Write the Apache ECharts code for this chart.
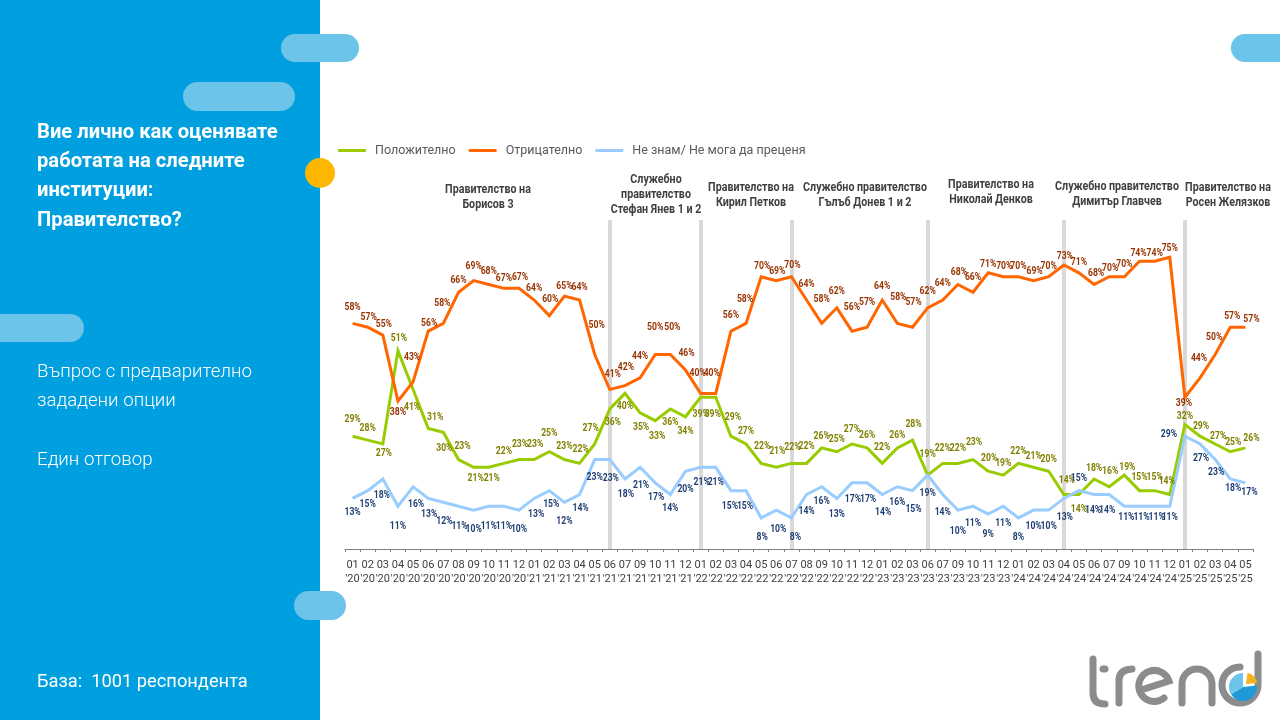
<!DOCTYPE html>
<html>
<head>
<meta charset="utf-8">
<style>html,body{margin:0;padding:0;background:#fff}#chart{width:1280px;height:720px}</style>
<script src="https://cdn.jsdelivr.net/npm/echarts@6/dist/echarts.min.js"></script>
</head>
<body>
<div id="chart"></div>
<script>
var categories = ["01\n'20","02\n'20","03\n'20","04\n'20","05\n'20","06\n'20","07\n'20","08\n'20","09\n'20","10\n'20","11\n'20","12\n'20",
	"01\n'21","02\n'21","03\n'21","04\n'21","05\n'21","06\n'21","07\n'21","09\n'21","10\n'21","11\n'21","12\n'21",
	"01\n'22","02\n'22","03\n'22","04\n'22","05\n'22","06\n'22","07\n'22","08\n'22","09\n'22","10\n'22","11\n'22","12\n'22",
	"01\n'23","02\n'23","03\n'23","06\n'23","07\n'23","09\n'23","10\n'23","11\n'23","12\n'23",
	"01\n'24","02\n'24","03\n'24","04\n'24","05\n'24","06\n'24","07\n'24","09\n'24","10\n'24","11\n'24","12\n'24",
	"01\n'25","02\n'25","03\n'25","04\n'25","05\n'25"];

var positive = [29,28,27,51,41,31,30,23,21,21,22,23,23,25,23,22,27,36,40,35,33,36,34,39,39,29,27,22,21,22,22,26,25,27,26,22,26,28,19,22,22,23,20,19,22,21,20,14,14,18,16,19,15,15,14,32,29,27,25,26];
var negative = [58,57,55,38,43,56,58,66,69,68,67,67,64,60,65,64,50,41,42,44,50,50,46,40,40,56,58,70,69,70,64,58,62,56,57,64,58,57,62,64,68,66,71,70,70,69,70,73,71,68,70,70,74,74,75,39,44,50,57,57];
var dontKnow = [13,15,18,11,16,13,12,11,10,11,11,10,13,15,12,14,23,23,18,21,17,14,20,21,21,15,15,8,10,8,14,16,13,17,17,14,16,15,19,14,10,11,9,11,8,10,10,13,15,14,14,11,11,11,11,29,27,23,18,17];

// label nudges, px from the point
var positiveDx = [0,0,1,1,-1,7,1,4,2,3,0,1,1,0,0,1,-4,3,0,1,2,0,0,0,-3,2,0,1,1,1,0,0,0,0,0,0,0,1,0,0,0,1,1,0,0,0,0,3,0,0,1,3,0,0,-3,0,1,3,3,6];
var positiveDy = [-17,-12,9,-12,18,-11,16,-13,11,11,-12,-15,-15,-18,-13,-14,-16,13,13,15,16,13,15,17,17,-19,-13,-17,-16,-16,-17,-11,-12,-15,-12,-16,-12,-16,-21,-15,-15,-17,-13,-12,-12,-11,-12,-14,15,-11,-15,-8,-13,-13,-13,-8,-10,-8,-9,-9];
var negativeDx = [0,1,1,0,-1,1,-1,0,0,0,0,1,0,1,0,0,2,3,1,0,0,2,1,-3,-4,0,-1,1,1,1,0,0,0,0,0,0,1,1,0,0,1,0,0,1,0,1,0,1,0,2,1,0,-1,0,0,-1,-1,-1,2,6];
var negativeDy = [-16,-10,-11,11,-24,-8,-20,-12,-14,-13,-10,-11,-12,-16,-10,-13,-29,-15,-18,-21,-27,-27,-17,-20,-20,-16,-24,-10,-9,-11,-16,-24,-16,-24,-25,-14,-26,-25,-16,-17,-12,-15,-8,-10,-10,-9,-10,-9,-10,-11,-8,-12,-8,-8,-9,6,-19,-17,-11,-8];
var dontKnowDx = [0,0,-1,0,3,1,1,1,0,0,0,0,2,2,0,1,0,1,1,1,1,0,0,1,0,-1,-1,1,2,4,0,0,0,1,1,1,0,1,0,0,0,0,0,0,0,0,0,1,0,-1,-2,2,2,2,0,-16,1,1,3,4];
var dontKnowDy = [14,14,16,20,18,16,19,20,19,20,20,19,16,14,19,14,18,19,15,18,15,14,18,15,15,16,16,19,19,19,17,15,16,17,17,18,16,19,18,18,21,17,20,17,19,16,16,19,-12,16,16,11,11,11,11,-2,14,13,9,10];

var seriesNames = ['Положително','Отрицателно','Не знам/ Не мога да преценя'];
var governmentStarts = ["06\n'21","01\n'22","07\n'22","06\n'23","04\n'24","01\n'25"];
var governments = [
	{text:'Правителство на\nБорисов 3', x:488, y:197},
	{text:'Служебно\nправителство\nСтефан Янев 1 и 2', x:656, y:195},
	{text:'Правителство на\nКирил Петков', x:751, y:195},
	{text:'Служебно правителство\nГълъб Донев 1 и 2', x:865, y:195},
	{text:'Правителство на\nНиколай Денков', x:991, y:192},
	{text:'Служебно правителство\nДимитър Главчев', x:1117, y:194},
	{text:'Правителство на\nРосен Желязков', x:1228, y:195}
];

var PANEL = '#009fdf', PILL = '#6cc4ea', LOGO = '#8a8c8e';

function makeLine(name, values, lineColor, z){
	return {
		name: name,
		type: 'line',
		z: z,
		data: values,
		showSymbol: false,
		color: lineColor,
		lineStyle: {width: 3, color: lineColor, join: 'miter'},
		emphasis: {disabled: true},
		animation: false
	};
}

// the labels are squeezed sideways, the originals are set in a condensed face
function makeLabels(values, dx, dy, labelColor){
	return {
		type: 'custom',
		z: 6,
		silent: true,
		animation: false,
		data: values.map(function(v, i){ return [i, v]; }),
		renderItem: function(params, api){
			var i = params.dataIndex;
			var p = api.coord([api.value(0), api.value(1)]);
			return {
				type: 'text',
				x: p[0] + dx[i],
				y: p[1] + dy[i],
				scaleX: 0.82,
				style: {
					text: values[i] + '%',
					fill: labelColor,
					font: 'bold 10.5px Roboto',
					align: 'center',
					verticalAlign: 'middle'
				}
			};
		}
	};
}

function pill(x, y, w, h){
	return {type:'rect', shape:{x:x, y:y, width:w, height:h, r:h/2}, style:{fill:PILL}, z:2};
}
function panelText(text, y, size, weight){
	return {type:'text', x:37, y:y, z:3, style:{text:text, fill:'#fff', font:(weight||'normal')+' '+size+'px Roboto', verticalAlign:'middle'}};
}
var logoCount = 0;
function logoStroke(d, w){
	var name = 'logoStroke' + (logoCount++);
	echarts.graphic.registerShape(name, echarts.graphic.extendPath(d));
	return {type:name, z:3, style:{fill:'none', stroke:LOGO, lineWidth:w||7, lineCap:'round'}};
}

var graphics = [
	{type:'rect', shape:{x:0, y:0, width:320, height:720}, style:{fill:PANEL}, z:1},
	pill(281,34,78,28), pill(183,82,112,29), pill(-20,314,104,28), pill(294,591,52,29), pill(1231,34,70,28),
	{type:'circle', shape:{cx:320, cy:173, r:15}, style:{fill:'#ffb600'}, z:3},
	panelText('Вие лично как оценявате',133,20.2,'bold'),
	panelText('работата на следните',162,20.2,'bold'),
	panelText('институции:',191,20.2,'bold'),
	panelText('Правителство?',221,20.2,'bold'),
	panelText('Въпрос с предварително',372,18.7,'300'),
	panelText('зададени опции',401,18.7,'300'),
	panelText('Един отговор',460,18.7,'300'),
	panelText('База:  1001 респондента',682,18.3),
	logoStroke('M1093,659 L1093,693 Q1093,704 1105,704'),
	logoStroke('M1103,669 L1105,669'),
	logoStroke('M1119,703 L1119,680 Q1119,670 1132,669'),
	logoStroke('M1141,690 L1169,681 A15.5,15.5 0 1 0 1164,698'),
	logoStroke('M1182,703 L1182,684 A15,15 0 0 1 1212,684 L1212,703'),
	logoStroke('M1258,654 L1258,685 A18,18 0 1 1 1240,667'),
	{type:'sector', shape:{cx:1243, cy:687, r0:0, r:14, startAngle:-0.1, endAngle:2.6}, style:{fill:'#1e9ad6'}, z:3},
	{type:'sector', shape:{cx:1243, cy:687, r0:0, r:14, startAngle:2.6, endAngle:4.71}, style:{fill:'#6cc4ea'}, z:3},
	{type:'sector', shape:{cx:1246, cy:684, r0:0, r:11, startAngle:4.85, endAngle:6.2}, style:{fill:'#f5b21a'}, z:3}
];
governments.forEach(function(g){
	graphics.push({type:'text', x:g.x, y:g.y, z:3, scaleX:0.89, style:{text:g.text, fill:'#404040', font:'bold 12px Roboto', align:'center', verticalAlign:'middle', lineHeight:15}});
});

var chart = echarts.init(document.getElementById('chart'));

var lines = [
	makeLine(seriesNames[0], positive, '#99cc00', 3),
	makeLine(seriesNames[1], negative, '#ff6600', 4),
	makeLine(seriesNames[2], dontKnow, '#99ccff', 5)
];
lines[0].markLine = {
	silent: true,
	symbol: 'none',
	label: {show: false},
	animation: false,
	lineStyle: {color: '#d9d9d9', width: 4, type: 'solid'},
	z: 1,
	data: governmentStarts.map(function(c){
		return [{coord: [c, 0]}, {coord: [c, 84.6]}];
	})
};

chart.setOption({
	animation: false,
	backgroundColor: '#fff',
	grid: {left: 345, top: 160, width: 908, height: 389},
	legend: {
		left: 333,
		top: 139,
		icon: 'roundRect',
		itemWidth: 28,
		itemHeight: 3,
		itemGap: 13,
		textStyle: {color: '#595959', fontFamily: 'Roboto', fontSize: 12.5, padding: [0, 0, 0, 4]},
		data: seriesNames
	},
	xAxis: {
		type: 'category',
		boundaryGap: true,
		data: categories,
		axisLine: {lineStyle: {color: '#808080', width: 1}},
		axisTick: {show: true, interval: 0, length: 3, lineStyle: {color: '#808080'}},
		axisLabel: {interval: 0, color: '#404040', fontFamily: 'Roboto', fontSize: 11, lineHeight: 14, margin: 9, hideOverlap: false}
	},
	yAxis: {type: 'value', min: 0, max: 100, show: false, splitLine: {show: false}},
	graphic: graphics,
	series: lines.concat([
		makeLabels(positive, positiveDx, positiveDy, '#808000'),
		makeLabels(negative, negativeDx, negativeDy, '#993300'),
		makeLabels(dontKnow, dontKnowDx, dontKnowDy, '#1f3f73')
	])
});
</script>
</body>
</html>
